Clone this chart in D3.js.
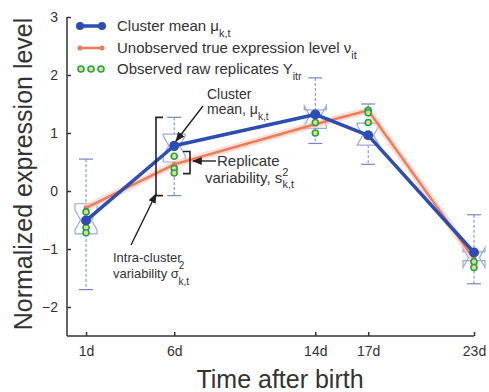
<!DOCTYPE html>
<html lang="en">
<head>
<meta charset="utf-8">
<title>Cluster mean over time</title>
<script src="https://d3js.org/d3.v7.min.js"></script>
<style>
  body { margin: 0; background: #fff; }
  svg text { font-family: "Liberation Sans", Arial, sans-serif; fill: #333; }
</style>
</head>
<body>
<script>
// data
const days = [1, 6, 14, 17, 23];
const dayLabels = ["1d", "6d", "14d", "17d", "23d"];
const clusterMean = [-0.51, 0.78, 1.32, 0.96, -1.06];
const trueLevel = [-0.29, 0.46, 1.15, 1.39, -1.17];
const replicates = [
  [-0.36, -0.63, -0.72],
  [0.75, 0.6, 0.39, 0.31],
  [1.18, 1.0],
  [1.39, 1.35, 1.18],
  [-1.22, -1.32]
];
// box stats: [low whisker, q1, median, q3, high whisker]
const boxStats = [
  [-1.7, -0.74, -0.5, -0.22, 0.55],
  [-0.08, 0.5, 0.78, 0.98, 1.27],
  [0.82, 1.08, 1.3, 1.4, 1.95],
  [0.46, 0.79, 0.96, 1.17, 1.5],
  [-1.6, -1.2, -1.15, -1.05, -0.41]
];
const yTicks = [-2, -1, 0, 1, 2, 3];

const width = 489, height = 392;
const svg = d3.select("body").append("svg")
  .attr("width", width).attr("height", height);

const x = d3.scaleLinear().domain([-0.08, 23]).range([67, 474]);
const y = d3.scaleLinear().domain([-2.5, 3]).range([336, 17]);

const blue = "#2c4db3", orange = "#ef7b5b", boxCol = "#9ca8d6", whiskCol = "#7587c4";

// arrowhead
svg.append("defs").append("marker")
  .attr("id", "arrow").attr("viewBox", "0 0 10 10")
  .attr("refX", 9).attr("refY", 5)
  .attr("markerWidth", 7).attr("markerHeight", 7)
  .attr("orient", "auto-start-reverse")
  .append("path").attr("d", "M0,1 L10,5 L0,9 z").attr("fill", "#222");

// axes, ticks pointing inward
const yAxis = svg.append("g").attr("transform", "translate(67,0)")
  .call(d3.axisLeft(y).tickValues(yTicks).tickSize(-4).tickPadding(9).tickFormat(d3.format("d")));
const xAxis = svg.append("g").attr("transform", "translate(0,336)")
  .call(d3.axisBottom(x).tickValues(days).tickSize(-4).tickPadding(10).tickFormat((d, i) => dayLabels[i]));
[yAxis, xAxis].forEach(g => {
  g.select(".domain").attr("stroke", "#333").attr("stroke-width", 1.5);
  g.selectAll(".tick line").attr("stroke", "#333").attr("stroke-width", 1.5);
  g.selectAll(".tick text").style("font-size", "14px").attr("fill", "#333");
});
yAxis.select(".domain").attr("d", `M0,${y(3)}V${y(-2.5)}`);
xAxis.select(".domain").attr("d", `M${x(-0.08)},0H${x(23)}`);

// axis titles
svg.append("text")
  .attr("transform", `translate(32,174) rotate(-90)`)
  .attr("text-anchor", "middle").style("font-size", "25px")
  .text("Normalized expression level");
svg.append("text")
  .attr("x", 280).attr("y", 388).attr("text-anchor", "middle")
  .style("font-size", "25px").text("Time after birth");

// notched boxes
const bw = 11, nh = 0.17;
boxStats.forEach((b, i) => {
  const cx = x(days[i]);
  const [lo, q1, med, q3, hi] = b;
  svg.append("line").attr("x1", cx).attr("x2", cx).attr("y1", y(hi)).attr("y2", y(q3))
    .attr("stroke", whiskCol).attr("stroke-dasharray", "3,2").attr("stroke-width", 1);
  svg.append("line").attr("x1", cx).attr("x2", cx).attr("y1", y(q1)).attr("y2", y(lo))
    .attr("stroke", whiskCol).attr("stroke-dasharray", "3,2").attr("stroke-width", 1);
  [lo, hi].forEach(v => svg.append("line")
    .attr("x1", cx - 7).attr("x2", cx + 7).attr("y1", y(v)).attr("y2", y(v))
    .attr("stroke", whiskCol).attr("stroke-width", 1.2));
  const pts = [
    [cx - bw, y(q3)], [cx + bw, y(q3)], [cx + bw, y(med + nh)], [cx + bw / 2, y(med)],
    [cx + bw, y(med - nh)], [cx + bw, y(q1)], [cx - bw, y(q1)], [cx - bw, y(med - nh)],
    [cx - bw / 2, y(med)], [cx - bw, y(med + nh)]
  ];
  svg.append("path").attr("d", "M" + pts.join("L") + "Z")
    .attr("fill", "none").attr("stroke", boxCol).attr("stroke-width", 1.2);
});

// lines
const lineGen = d3.line().x((d, i) => x(days[i])).y(d => y(d));
svg.append("path").attr("d", lineGen(trueLevel)).attr("fill", "none")
  .attr("stroke", "#f9c7b8").attr("stroke-width", 7).attr("opacity", 0.6);
svg.append("path").attr("d", lineGen(trueLevel)).attr("fill", "none")
  .attr("stroke", orange).attr("stroke-width", 2.5);
svg.selectAll(".tmark").data(trueLevel).enter().append("circle")
  .attr("cx", (d, i) => x(days[i])).attr("cy", d => y(d)).attr("r", 2.5).attr("fill", orange);
svg.append("path").attr("d", lineGen(clusterMean)).attr("fill", "none")
  .attr("stroke", blue).attr("stroke-width", 3.5).attr("stroke-linejoin", "round");

// replicates
replicates.forEach((reps, i) => {
  svg.selectAll(null).data(reps).enter().append("circle")
    .attr("cx", x(days[i])).attr("cy", d => y(d)).attr("r", 3)
    .attr("fill", "#e6e070").attr("stroke", "#1fa35a").attr("stroke-width", 1.6);
});
svg.selectAll(".cmark").data(clusterMean).enter().append("circle")
  .attr("cx", (d, i) => x(days[i])).attr("cy", d => y(d)).attr("r", 5).attr("fill", blue);

// legend
const legend = svg.append("g");
const legRows = [26, 48, 69];
legend.append("line").attr("x1", 80).attr("x2", 102).attr("y1", legRows[0]).attr("y2", legRows[0])
  .attr("stroke", blue).attr("stroke-width", 3.5);
[80, 102].forEach(cx => legend.append("circle").attr("cx", cx).attr("cy", legRows[0]).attr("r", 4).attr("fill", blue));
legend.append("line").attr("x1", 80).attr("x2", 102).attr("y1", legRows[1]).attr("y2", legRows[1])
  .attr("stroke", orange).attr("stroke-width", 2.5);
[80, 102].forEach(cx => legend.append("circle").attr("cx", cx).attr("cy", legRows[1]).attr("r", 2.5).attr("fill", orange));
[81, 91, 101].forEach(cx => legend.append("circle").attr("cx", cx).attr("cy", legRows[2]).attr("r", 3)
  .attr("fill", "#e6e070").attr("stroke", "#1fa35a").attr("stroke-width", 1.6));

function label(g, xx, yy, parts, size) {
  const t = g.append("text").attr("x", xx).attr("y", yy).style("font-size", size + "px");
  parts.forEach(p => {
    const s = t.append("tspan").text(p.t);
    if (p.sub) s.attr("dy", size * 0.4).style("font-size", (size * 0.72) + "px");
  });
  return t;
}
label(legend, 117, legRows[0] + 5, [{t: "Cluster mean μ"}, {t: "k,t", sub: true}], 15);
label(legend, 117, legRows[1] + 5, [{t: "Unobserved true expression level ν"}, {t: "it", sub: true}], 15);
label(legend, 117, legRows[2] + 5, [{t: "Observed raw replicates  Y"}, {t: "itr", sub: true}], 15);

// annotations
const ann = svg.append("g");
label(ann, 207, 99, [{t: "Cluster"}], 14);
label(ann, 207, 114, [{t: "mean, μ"}, {t: "k,t", sub: true}], 14);
ann.append("line").attr("x1", 203).attr("y1", 106).attr("x2", 176).attr("y2", 141)
  .attr("stroke", "#222").attr("stroke-width", 1.4).attr("marker-end", "url(#arrow)");

// replicate bracket
ann.append("path").attr("d", `M183,${y(0.68)}H190V${y(0.3)}H183`)
  .attr("fill", "none").attr("stroke", "#222").attr("stroke-width", 1.6);
ann.append("line").attr("x1", 216).attr("y1", 161).attr("x2", 193).attr("y2", 161)
  .attr("stroke", "#222").attr("stroke-width", 1.4).attr("marker-end", "url(#arrow)");
label(ann, 217, 166, [{t: "Replicate"}], 15);
const rv = label(ann, 205, 183, [{t: "variability, s"}], 15);
rv.append("tspan").attr("dy", -7).style("font-size", "11px").text("2");
rv.append("tspan").attr("dx", -6).attr("dy", 12).style("font-size", "11px").text("k,t");

// intra-cluster bracket
ann.append("path").attr("d", `M163,${y(1.27)}H156V${y(-0.08)}H163`)
  .attr("fill", "none").attr("stroke", "#222").attr("stroke-width", 1.6);
ann.append("line").attr("x1", 131).attr("y1", 245).attr("x2", 156).attr("y2", 194)
  .attr("stroke", "#222").attr("stroke-width", 1.4).attr("marker-end", "url(#arrow)");
label(ann, 113, 262, [{t: "Intra-cluster"}], 13);
const iv = label(ann, 113, 278, [{t: "variability  σ"}], 13);
iv.append("tspan").attr("dy", -9).style("font-size", "10px").text("2");
iv.append("tspan").attr("dx", -6).attr("dy", 16).style("font-size", "10px").text("k,t");
</script>
</body>
</html>
